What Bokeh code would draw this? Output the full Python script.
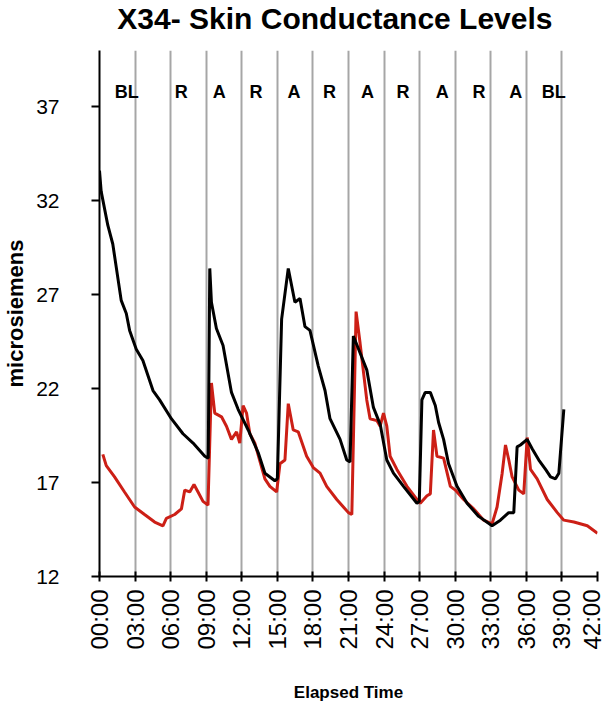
from bokeh.plotting import figure
from bokeh.models import FixedTicker, Range1d, ColumnDataSource
from bokeh.layouts import column
from bokeh.core.properties import value
from bokeh.embed import file_html
from bokeh.resources import INLINE

# ---- data (minutes, microsiemens) ----
black_t = [0.0, 0.14, 0.70, 1.12, 1.83, 2.26, 2.54, 3.10, 3.66, 4.51,
           5.07, 6.06, 7.04, 7.89, 8.88, 9.17, 9.30, 9.44, 9.86, 10.42,
           11.13, 11.69, 12.54, 13.38, 13.95, 14.79, 15.00, 15.36, 15.92, 16.48,
           16.91, 17.33, 17.75, 18.45, 19.02, 19.44, 20.29, 20.85, 21.13, 21.41,
           21.98, 22.54, 23.10, 23.67, 24.23, 24.79, 25.64, 26.77, 26.97, 27.19,
           27.47, 27.90, 28.32, 28.60, 29.02, 29.44, 30.15, 31.00, 31.98, 33.11,
           33.81, 34.51, 34.94, 35.22, 35.50, 36.07, 36.49, 37.05, 37.62, 38.04,
           38.46, 38.74, 39.16]
black_v = [33.6, 32.5, 30.7, 29.7, 26.7, 26.0, 25.1, 24.1, 23.5, 21.9,
           21.4, 20.4, 19.6, 19.1, 18.4, 18.3, 28.4, 26.6, 25.2, 24.3,
           21.8, 20.9, 19.8, 18.6, 17.5, 17.1, 17.2, 25.7, 28.4, 26.6,
           26.8, 25.3, 25.1, 23.2, 21.9, 20.4, 19.3, 18.2, 18.1, 24.8,
           23.9, 23.0, 21.0, 20.1, 18.2, 17.5, 16.8, 15.9, 16.0, 21.4,
           21.8, 21.8, 21.1, 20.2, 19.3, 18.0, 16.8, 15.9, 15.2, 14.7,
           15.0, 15.4, 15.4, 18.9, 19.0, 19.3, 18.8, 18.2, 17.7, 17.3,
           17.2, 17.5, 20.9]

red_t = [0.28, 0.57, 1.27, 2.11, 2.96, 3.80, 4.65, 5.35, 5.64, 6.34,
         6.91, 7.19, 7.61, 7.97, 8.31, 8.73, 9.15, 9.44, 9.72, 10.29,
         10.71, 11.13, 11.56, 11.83, 12.11, 12.40, 12.68, 13.10, 13.95, 14.37,
         14.94, 15.22, 15.64, 15.92, 16.34, 16.76, 17.47, 18.03, 18.60, 19.16,
         20.01, 20.99, 21.28, 21.64, 21.98, 22.54, 22.82, 23.39, 23.67, 23.95,
         24.23, 24.51, 25.08, 25.93, 26.77, 27.05, 27.62, 27.90, 28.17, 28.46,
         29.02, 29.59, 30.01, 30.71, 31.56, 32.40, 33.11, 33.53, 33.96, 34.24,
         34.52, 34.80, 35.36, 35.78, 36.07, 36.35, 36.91, 37.76, 38.61, 39.16,
         40.01, 41.14, 42.0]
red_v = [18.5, 17.9, 17.3, 16.5, 15.7, 15.3, 14.9, 14.7, 15.1, 15.3,
         15.6, 16.6, 16.5, 16.9, 16.5, 16.0, 15.8, 22.3, 20.7, 20.5,
         20.0, 19.3, 19.7, 19.1, 21.1, 20.7, 19.6, 19.1, 17.2, 16.8,
         16.5, 18.0, 18.2, 21.2, 19.8, 19.7, 18.4, 17.8, 17.5, 16.8,
         16.1, 15.4, 15.3, 26.1, 24.4, 21.4, 20.4, 20.3, 20.0, 20.7,
         20.0, 18.4, 17.7, 16.8, 16.1, 15.9, 16.3, 16.4, 19.8, 18.4,
         18.3, 16.8, 16.6, 16.1, 15.6, 15.0, 14.8, 15.7, 17.5, 19.0,
         18.2, 17.3, 16.6, 16.4, 19.4, 17.7, 17.2, 16.1, 15.4, 15.0,
         14.9, 14.7, 14.3]

x_ticks = [0, 3, 6, 9, 12, 15, 18, 21, 24, 27, 30, 33, 36, 39, 42]
x_tick_labels = ["00:00", "03:00", "06:00", "09:00", "12:00", "15:00", "18:00",
                 "21:00", "24:00", "27:00", "30:00", "33:00", "36:00", "39:00", "42:00"]
y_ticks = [12, 17, 22, 27, 32, 37]

phase_names = ["BL", "R", "A", "R", "A", "R", "A", "R", "A", "R", "A", "BL"]
phase_x = [2.3, 6.9, 10.1, 13.2, 16.4, 19.4, 22.6, 25.6, 28.9, 32.0, 35.1, 38.3]
phase_y = [37.8] * len(phase_names)

title_text = "X34- Skin Conductance Levels"

FONT = "Liberation Sans"

# ---- title strip (its own small figure, no axes) ----
t = figure(width=605, height=40, output_backend="svg", toolbar_location=None,
           x_range=Range1d(0, 605), y_range=Range1d(0, 40),
           min_border=0, x_axis_location=None, y_axis_location=None)
t.outline_line_color = None
t.grid.grid_line_color = None
t.text(x=[286], y=[22], text=[title_text], text_align="center",
       text_baseline="middle", text_font=value(FONT), text_font_size="30px",
       text_font_style="bold", text_color="black")

# ---- main chart ----
p = figure(width=605, height=664, output_backend="svg", toolbar_location=None,
           x_range=Range1d(0, 42), y_range=Range1d(12, 40),
           min_border_left=99, min_border_right=8, min_border_top=10,
           min_border_bottom=127)

p.outline_line_color = None
p.background_fill_color = "white"
p.border_fill_color = "white"

# grid: gray vertical lines at every 3 minutes
p.xgrid.ticker = FixedTicker(ticks=x_ticks)
p.xgrid.grid_line_color = "#a6a6a6"
p.xgrid.grid_line_width = 2
p.ygrid.grid_line_color = None

# x axis
p.xaxis.ticker = FixedTicker(ticks=x_ticks)
p.xaxis.major_label_overrides = {tk: lb for tk, lb in zip(x_ticks, x_tick_labels)}
p.xaxis.major_label_orientation = 1.5708
p.xaxis.major_label_text_font = FONT
p.xaxis.major_label_text_font_size = "24px"
p.xaxis.major_label_text_color = "black"
p.xaxis.major_label_standoff = 8
p.xaxis.major_tick_in = 5
p.xaxis.major_tick_out = 5
p.xaxis.minor_tick_line_color = None
p.xaxis.axis_line_width = 2
p.xaxis.major_tick_line_width = 2
p.xaxis.axis_line_color = "black"
p.xaxis.major_tick_line_color = "black"
p.xaxis.axis_label = "Elapsed Time"
p.xaxis.axis_label_text_font = FONT
p.xaxis.axis_label_text_font_size = "17px"
p.xaxis.axis_label_text_font_style = "bold"
p.xaxis.axis_label_text_color = "black"
p.xaxis.axis_label_standoff = 30

# y axis
p.yaxis.ticker = FixedTicker(ticks=y_ticks)
p.yaxis.major_label_text_font = FONT
p.yaxis.major_label_text_font_size = "21px"
p.yaxis.major_label_text_color = "black"
p.yaxis.major_label_standoff = 32
p.yaxis.major_tick_in = 0
p.yaxis.major_tick_out = 8
p.yaxis.minor_tick_line_color = None
p.yaxis.axis_line_width = 2
p.yaxis.major_tick_line_width = 2
p.yaxis.axis_line_color = "black"
p.yaxis.major_tick_line_color = "black"
p.yaxis.axis_label = "microsiemens"
p.yaxis.axis_label_text_font = FONT
p.yaxis.axis_label_text_font_size = "22px"
p.yaxis.axis_label_text_font_style = "bold"
p.yaxis.axis_label_text_color = "black"
p.yaxis.axis_label_standoff = 5

# series
p.line(red_t, red_v, line_color="#cc1f16", line_width=3)
p.line(black_t, black_v, line_color="black", line_width=3)

# phase labels
src = ColumnDataSource(dict(x=phase_x, y=phase_y, t=phase_names))
p.text(x="x", y="y", text="t", source=src, text_align="center",
       text_baseline="middle", text_font=value(FONT), text_font_size="18px",
       text_font_style="bold", text_color="black")

layout = column(t, p, spacing=0)
open("out.html", "w").write(file_html(layout, INLINE))
